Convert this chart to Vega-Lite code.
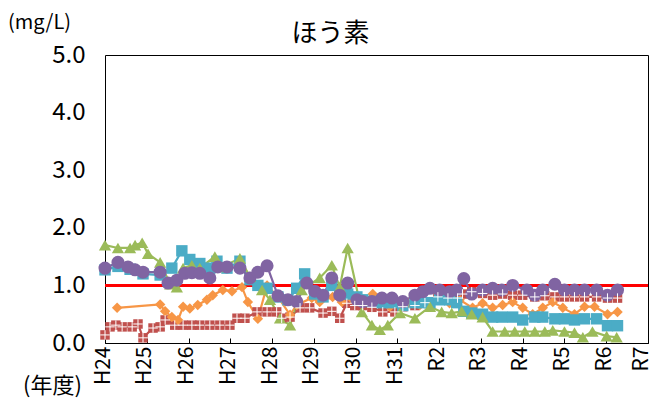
{
"$schema": "https://vega.github.io/schema/vega-lite/v6.json",
"width": 543, "height": 288,
"autosize": {"type": "none"},
"padding": {"left": 105, "top": 55, "right": 5, "bottom": 62},
"background": "white",
"title": {"text": "ほう素", "font": "Noto Sans CJK JP", "fontSize": 26, "fontWeight": "normal", "color": "black", "dx": -46, "dy": 43, "offset": 8},
"config": {"view": {"stroke": "black", "strokeWidth": 1}, "font": "Noto Sans CJK JP"},
"data": {"values": [
{"s":"s1","t":0.00,"v":0.14},{"s":"s1","t":0.12,"v":0.28},{"s":"s1","t":0.26,"v":0.31},{"s":"s1","t":0.41,"v":0.28},{"s":"s1","t":0.65,"v":0.28},{"s":"s1","t":0.79,"v":0.33},{"s":"s1","t":0.91,"v":0.09},{"s":"s1","t":1.15,"v":0.26},{"s":"s1","t":1.32,"v":0.28},{"s":"s1","t":1.44,"v":0.40},{"s":"s1","t":1.67,"v":0.31},{"s":"s1","t":1.87,"v":0.31},{"s":"s1","t":2.08,"v":0.31},{"s":"s1","t":2.27,"v":0.31},{"s":"s1","t":2.51,"v":0.31},{"s":"s1","t":2.75,"v":0.31},{"s":"s1","t":2.99,"v":0.31},{"s":"s1","t":3.16,"v":0.43},{"s":"s1","t":3.35,"v":0.43},{"s":"s1","t":3.64,"v":0.54},{"s":"s1","t":3.88,"v":0.54},{"s":"s1","t":4.11,"v":0.54},{"s":"s1","t":4.23,"v":0.43},{"s":"s1","t":4.43,"v":0.45},{"s":"s1","t":4.67,"v":0.61},{"s":"s1","t":4.90,"v":0.61},{"s":"s1","t":5.22,"v":0.52},{"s":"s1","t":5.43,"v":0.55},{"s":"s1","t":5.62,"v":0.43},{"s":"s1","t":5.79,"v":0.69},{"s":"s1","t":5.98,"v":0.65},{"s":"s1","t":6.17,"v":0.65},{"s":"s1","t":6.39,"v":0.62},{"s":"s1","t":6.65,"v":0.54},{"s":"s1","t":6.94,"v":0.54},{"s":"s1","t":7.13,"v":0.63},{"s":"s1","t":7.42,"v":0.65},{"s":"s1","t":7.66,"v":0.70},{"s":"s1","t":7.97,"v":0.80},{"s":"s1","t":8.21,"v":0.78},{"s":"s1","t":8.44,"v":0.78},{"s":"s1","t":8.56,"v":0.85},{"s":"s1","t":8.78,"v":0.89},{"s":"s1","t":9.04,"v":0.86},{"s":"s1","t":9.28,"v":0.83},{"s":"s1","t":9.52,"v":0.85},{"s":"s1","t":9.76,"v":0.83},{"s":"s1","t":10.00,"v":0.83},{"s":"s1","t":10.29,"v":0.80},{"s":"s1","t":10.53,"v":0.82},{"s":"s1","t":10.77,"v":0.80},{"s":"s1","t":11.00,"v":0.80},{"s":"s1","t":11.24,"v":0.80},{"s":"s1","t":11.48,"v":0.80},{"s":"s1","t":11.77,"v":0.80},{"s":"s1","t":12.03,"v":0.78},{"s":"s1","t":12.27,"v":0.78},
{"s":"s2","t":0.29,"v":0.61},{"s":"s2","t":1.32,"v":0.67},{"s":"s2","t":1.44,"v":0.55},{"s":"s2","t":1.60,"v":0.45},{"s":"s2","t":1.75,"v":0.40},{"s":"s2","t":1.87,"v":0.63},{"s":"s2","t":2.03,"v":0.60},{"s":"s2","t":2.22,"v":0.66},{"s":"s2","t":2.44,"v":0.75},{"s":"s2","t":2.58,"v":0.83},{"s":"s2","t":2.82,"v":0.92},{"s":"s2","t":3.04,"v":0.90},{"s":"s2","t":3.28,"v":0.97},{"s":"s2","t":3.42,"v":0.71},{"s":"s2","t":3.66,"v":0.42},{"s":"s2","t":3.88,"v":1.00},{"s":"s2","t":4.14,"v":0.80},{"s":"s2","t":4.43,"v":0.49},{"s":"s2","t":4.59,"v":0.66},{"s":"s2","t":4.95,"v":0.78},{"s":"s2","t":5.14,"v":0.71},{"s":"s2","t":5.45,"v":0.80},{"s":"s2","t":5.67,"v":0.71},{"s":"s2","t":5.93,"v":0.75},{"s":"s2","t":6.17,"v":0.70},{"s":"s2","t":6.41,"v":0.85},{"s":"s2","t":6.63,"v":0.69},{"s":"s2","t":6.82,"v":0.63},{"s":"s2","t":7.06,"v":0.71},{"s":"s2","t":7.25,"v":0.69},{"s":"s2","t":7.54,"v":0.66},{"s":"s2","t":7.78,"v":0.71},{"s":"s2","t":8.01,"v":0.75},{"s":"s2","t":8.25,"v":0.69},{"s":"s2","t":8.49,"v":0.75},{"s":"s2","t":8.80,"v":0.61},{"s":"s2","t":9.04,"v":0.69},{"s":"s2","t":9.28,"v":0.61},{"s":"s2","t":9.52,"v":0.66},{"s":"s2","t":9.76,"v":0.71},{"s":"s2","t":10.00,"v":0.61},{"s":"s2","t":10.24,"v":0.50},{"s":"s2","t":10.48,"v":0.61},{"s":"s2","t":10.72,"v":0.71},{"s":"s2","t":10.96,"v":0.61},{"s":"s2","t":11.24,"v":0.50},{"s":"s2","t":11.48,"v":0.63},{"s":"s2","t":11.72,"v":0.63},{"s":"s2","t":12.03,"v":0.50},{"s":"s2","t":12.27,"v":0.54},
{"s":"s3","t":0.00,"v":1.27},{"s":"s3","t":0.31,"v":1.33},{"s":"s3","t":0.60,"v":1.28},{"s":"s3","t":0.91,"v":1.20},{"s":"s3","t":1.32,"v":1.18},{"s":"s3","t":1.60,"v":1.30},{"s":"s3","t":1.84,"v":1.60},{"s":"s3","t":2.03,"v":1.45},{"s":"s3","t":2.27,"v":1.38},{"s":"s3","t":2.51,"v":1.30},{"s":"s3","t":2.68,"v":1.42},{"s":"s3","t":2.92,"v":1.30},{"s":"s3","t":3.23,"v":1.42},{"s":"s3","t":3.47,"v":1.10},{"s":"s3","t":3.66,"v":1.00},{"s":"s3","t":3.88,"v":0.95},{"s":"s3","t":4.14,"v":0.80},{"s":"s3","t":4.38,"v":0.75},{"s":"s3","t":4.59,"v":0.95},{"s":"s3","t":4.78,"v":1.20},{"s":"s3","t":5.02,"v":0.85},{"s":"s3","t":5.22,"v":0.80},{"s":"s3","t":5.43,"v":1.00},{"s":"s3","t":5.62,"v":0.90},{"s":"s3","t":5.81,"v":0.85},{"s":"s3","t":6.03,"v":0.80},{"s":"s3","t":6.17,"v":0.75},{"s":"s3","t":6.39,"v":0.72},{"s":"s3","t":6.63,"v":0.70},{"s":"s3","t":6.87,"v":0.70},{"s":"s3","t":7.13,"v":0.65},{"s":"s3","t":7.42,"v":0.70},{"s":"s3","t":7.61,"v":0.70},{"s":"s3","t":7.78,"v":0.70},{"s":"s3","t":8.01,"v":0.75},{"s":"s3","t":8.25,"v":0.75},{"s":"s3","t":8.42,"v":0.70},{"s":"s3","t":8.59,"v":0.55},{"s":"s3","t":8.78,"v":0.52},{"s":"s3","t":9.04,"v":0.50},{"s":"s3","t":9.28,"v":0.45},{"s":"s3","t":9.50,"v":0.45},{"s":"s3","t":9.76,"v":0.45},{"s":"s3","t":10.00,"v":0.40},{"s":"s3","t":10.29,"v":0.45},{"s":"s3","t":10.48,"v":0.45},{"s":"s3","t":10.77,"v":0.42},{"s":"s3","t":11.00,"v":0.42},{"s":"s3","t":11.24,"v":0.40},{"s":"s3","t":11.48,"v":0.42},{"s":"s3","t":11.77,"v":0.42},{"s":"s3","t":12.03,"v":0.30},{"s":"s3","t":12.27,"v":0.30},
{"s":"s4","t":0.00,"v":1.70},{"s":"s4","t":0.31,"v":1.65},{"s":"s4","t":0.60,"v":1.65},{"s":"s4","t":0.72,"v":1.70},{"s":"s4","t":0.89,"v":1.74},{"s":"s4","t":1.03,"v":1.55},{"s":"s4","t":1.32,"v":1.40},{"s":"s4","t":1.56,"v":1.02},{"s":"s4","t":1.72,"v":0.97},{"s":"s4","t":1.87,"v":1.30},{"s":"s4","t":2.08,"v":1.35},{"s":"s4","t":2.27,"v":1.30},{"s":"s4","t":2.63,"v":1.50},{"s":"s4","t":2.80,"v":1.32},{"s":"s4","t":3.23,"v":1.47},{"s":"s4","t":3.47,"v":1.15},{"s":"s4","t":3.76,"v":0.92},{"s":"s4","t":3.95,"v":0.75},{"s":"s4","t":4.19,"v":0.43},{"s":"s4","t":4.43,"v":0.31},{"s":"s4","t":4.71,"v":0.92},{"s":"s4","t":5.14,"v":1.13},{"s":"s4","t":5.43,"v":1.35},{"s":"s4","t":5.62,"v":0.97},{"s":"s4","t":5.81,"v":1.65},{"s":"s4","t":6.15,"v":0.54},{"s":"s4","t":6.39,"v":0.31},{"s":"s4","t":6.58,"v":0.23},{"s":"s4","t":6.77,"v":0.31},{"s":"s4","t":7.06,"v":0.52},{"s":"s4","t":7.42,"v":0.43},{"s":"s4","t":7.78,"v":0.63},{"s":"s4","t":8.06,"v":0.54},{"s":"s4","t":8.30,"v":0.52},{"s":"s4","t":8.54,"v":0.55},{"s":"s4","t":8.78,"v":0.50},{"s":"s4","t":9.04,"v":0.45},{"s":"s4","t":9.28,"v":0.20},{"s":"s4","t":9.57,"v":0.20},{"s":"s4","t":9.81,"v":0.20},{"s":"s4","t":10.05,"v":0.20},{"s":"s4","t":10.29,"v":0.20},{"s":"s4","t":10.53,"v":0.20},{"s":"s4","t":10.72,"v":0.22},{"s":"s4","t":11.00,"v":0.20},{"s":"s4","t":11.24,"v":0.18},{"s":"s4","t":11.44,"v":0.10},{"s":"s4","t":11.67,"v":0.20},{"s":"s4","t":12.01,"v":0.12},{"s":"s4","t":12.25,"v":0.10},
{"s":"s5","t":0.00,"v":1.30},{"s":"s5","t":0.31,"v":1.40},{"s":"s5","t":0.55,"v":1.32},{"s":"s5","t":0.72,"v":1.27},{"s":"s5","t":0.91,"v":1.23},{"s":"s5","t":1.32,"v":1.23},{"s":"s5","t":1.51,"v":1.04},{"s":"s5","t":1.72,"v":1.09},{"s":"s5","t":1.91,"v":1.21},{"s":"s5","t":2.08,"v":1.22},{"s":"s5","t":2.27,"v":1.21},{"s":"s5","t":2.51,"v":1.13},{"s":"s5","t":2.70,"v":1.32},{"s":"s5","t":2.92,"v":1.32},{"s":"s5","t":3.23,"v":1.30},{"s":"s5","t":3.47,"v":1.13},{"s":"s5","t":3.66,"v":1.23},{"s":"s5","t":3.88,"v":1.34},{"s":"s5","t":4.14,"v":0.82},{"s":"s5","t":4.38,"v":0.75},{"s":"s5","t":4.59,"v":0.72},{"s":"s5","t":4.83,"v":1.04},{"s":"s5","t":5.02,"v":0.90},{"s":"s5","t":5.22,"v":0.83},{"s":"s5","t":5.43,"v":1.13},{"s":"s5","t":5.62,"v":0.83},{"s":"s5","t":5.81,"v":1.04},{"s":"s5","t":6.03,"v":0.75},{"s":"s5","t":6.17,"v":0.72},{"s":"s5","t":6.39,"v":0.72},{"s":"s5","t":6.63,"v":0.78},{"s":"s5","t":6.87,"v":0.78},{"s":"s5","t":7.13,"v":0.72},{"s":"s5","t":7.42,"v":0.83},{"s":"s5","t":7.61,"v":0.89},{"s":"s5","t":7.78,"v":0.95},{"s":"s5","t":8.01,"v":0.92},{"s":"s5","t":8.25,"v":0.89},{"s":"s5","t":8.42,"v":0.92},{"s":"s5","t":8.59,"v":1.12},{"s":"s5","t":8.78,"v":0.85},{"s":"s5","t":9.04,"v":0.92},{"s":"s5","t":9.28,"v":0.95},{"s":"s5","t":9.50,"v":0.92},{"s":"s5","t":9.76,"v":1.00},{"s":"s5","t":10.10,"v":0.92},{"s":"s5","t":10.29,"v":0.83},{"s":"s5","t":10.48,"v":0.92},{"s":"s5","t":10.77,"v":1.02},{"s":"s5","t":11.00,"v":0.92},{"s":"s5","t":11.24,"v":0.92},{"s":"s5","t":11.48,"v":0.92},{"s":"s5","t":11.77,"v":0.92},{"s":"s5","t":12.03,"v":0.83},{"s":"s5","t":12.27,"v":0.92}
]},
"layer": [
{"mark": {"type": "rule", "color": "#FF0000", "strokeWidth": 3}, "encoding": {"y": {"datum": 1, "type": "quantitative", "scale": {"domain": [0, 5], "nice": false}}}},
{"mark": {"type": "line", "strokeWidth": 2.2},
 "encoding": {
  "x": {"field": "t", "type": "quantitative", "scale": {"domain": [0, 13], "nice": false, "zero": false},
   "axis": {"values": [0,1,2,3,4,5,6,7,8,9,10,11,12,13], "labelExpr": "datum.value <= 7 ? 'H' + (24 + datum.value) : 'R' + (datum.value - 6)", "labelAngle": 270, "labelAlign": "right", "labelBaseline": "middle", "labelFontSize": 21, "labelOffset": {"condition": {"test": "datum.value == 13", "value": -7}, "value": -2}, "labelColor": "black", "labelFont": "Noto Sans CJK JP", "tickSize": -5, "tickColor": "black", "domainColor": "black", "grid": false, "labelPadding": 8, "labelBound": false, "labelFlush": false, "labelOverlap": false,
    "title": "(年度)", "titleAngle": 0, "titleFont": "Noto Sans CJK JP", "titleFontSize": 22, "titleFontWeight": "normal", "titleColor": "black", "titleX": -53, "titleY": 42, "titleAlign": "center", "titleBaseline": "middle"}},
  "y": {"field": "v", "type": "quantitative", "scale": {"domain": [0, 5], "nice": false},
   "axis": {"values": [0,1,2,3,4,5], "format": ".1f", "ticks": false, "domain": false, "grid": false, "labelFontSize": 24, "labelColor": "black", "labelFont": "Noto Sans CJK JP", "labelPadding": 20,
    "title": "(mg/L)", "titleAngle": 0, "titleFont": "Noto Sans CJK JP", "titleFontSize": 20, "titleFontWeight": "normal", "titleColor": "black", "titleX": -66, "titleY": -33, "titleAlign": "center", "titleBaseline": "middle"}},
  "color": {"field": "s", "type": "nominal", "scale": {"domain": ["s1","s2","s3","s4","s5"], "range": ["#C0504D","#F79646","#4BACC6","#9BBB59","#8064A2"]}, "legend": null}
 }},
{"mark": {"type": "point", "filled": true, "opacity": 1},
 "encoding": {
  "x": {"field": "t", "type": "quantitative"},
  "y": {"field": "v", "type": "quantitative"},
  "color": {"field": "s", "type": "nominal", "legend": null},
  "shape": {"field": "s", "type": "nominal", "scale": {"domain": ["s1","s2","s3","s4","s5"], "range": ["square","diamond","square","triangle-up","circle"]}, "legend": null},
  "size": {"field": "s", "type": "ordinal", "scale": {"domain": ["s1","s2","s3","s4","s5"], "range": [90, 170, 150, 190, 170]}, "legend": null}
 }},
{"transform": [{"filter": "datum.s === 's1'"}],
 "mark": {"type": "point", "shape": "M-1,0L1,0M0,-1L0,1", "filled": false, "stroke": "white", "strokeWidth": 1, "opacity": 1, "size": 90},
 "encoding": {
  "x": {"field": "t", "type": "quantitative"},
  "y": {"field": "v", "type": "quantitative"}
 }}
]
}
